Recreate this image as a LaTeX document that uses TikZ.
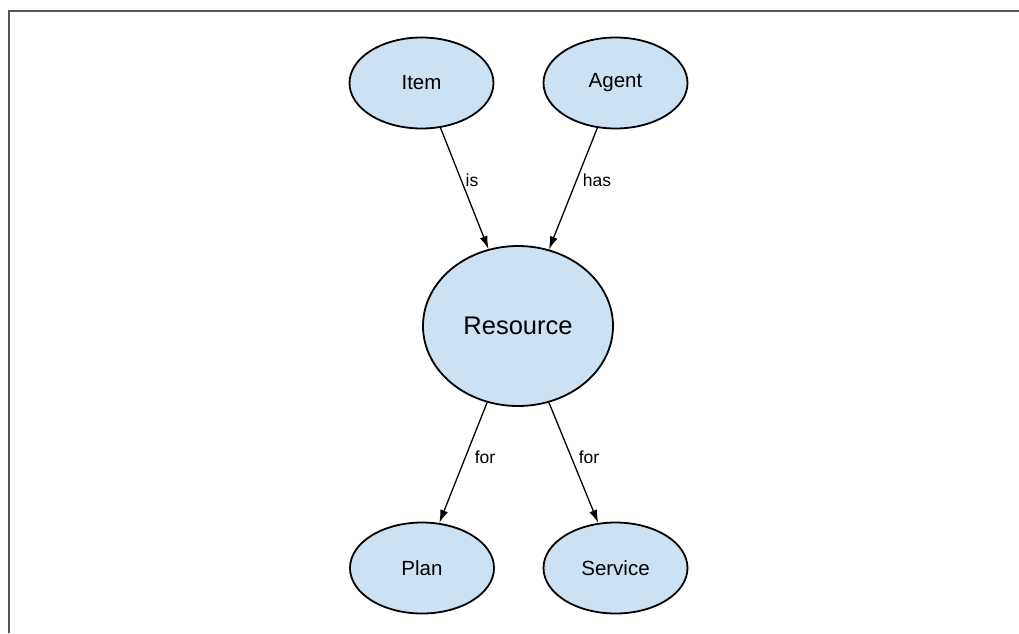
\documentclass[tikz,border=0pt]{standalone}
\usepackage{fontspec}
\setmainfont{Liberation Sans}
\usetikzlibrary{arrows.meta,shapes.geometric}
\definecolor{nodefill}{RGB}{204,225,242}
\definecolor{framegray}{RGB}{85,85,85}
\tikzset{
  concept/.style={ellipse, draw=black, line width=1.8pt, fill=nodefill, inner sep=0pt, font=\fontsize{20.5}{24}\selectfont},
  small/.style={concept, minimum width=144pt, minimum height=91pt},
  big/.style={concept, minimum width=190pt, minimum height=160pt, font=\fontsize{25.5}{30}\selectfont},
  link/.style={draw=black, line width=1.3pt, -{Latex[length=13pt,width=8pt]}},
  lbl/.style={font=\fontsize{17.5}{21}\selectfont, inner sep=0pt},
  frame/.style={draw=framegray, line width=2pt}
}
\begin{document}
\begin{tikzpicture}[x=1pt,y=-1pt]
\useasboundingbox (0,0) rectangle (1019,633);
\coordinate (ftop) at (1019,10.5);
\coordinate (fcorner) at (9,10.5);
\coordinate (fbot) at (9,633);
\draw[frame] (ftop) -- (fcorner) -- (fbot);
\node[small] (item) at (421.5,83) {Item};
\node[small] (agent) at (615.5,83) {Agent};
\node[big] (res) at (518,326) {Resource};
\node[small] (plan) at (422,568) {Plan};
\node[small] (serv) at (615.5,568) {Service};
\draw[link] (item.-67.5) -- (res.111.3);
\draw[link] (agent.-112.5) -- (res.68.7);
\draw[link] (res.-112) -- (plan.69);
\draw[link] (res.-68) -- (serv.111);
\node[lbl] (lis) at (472,180) {is};
\node[lbl] (lhas) at (597,180) {has};
\node[lbl] (lfor1) at (485,457) {for};
\node[lbl] (lfor2) at (589,457) {for};
\end{tikzpicture}
\end{document}
